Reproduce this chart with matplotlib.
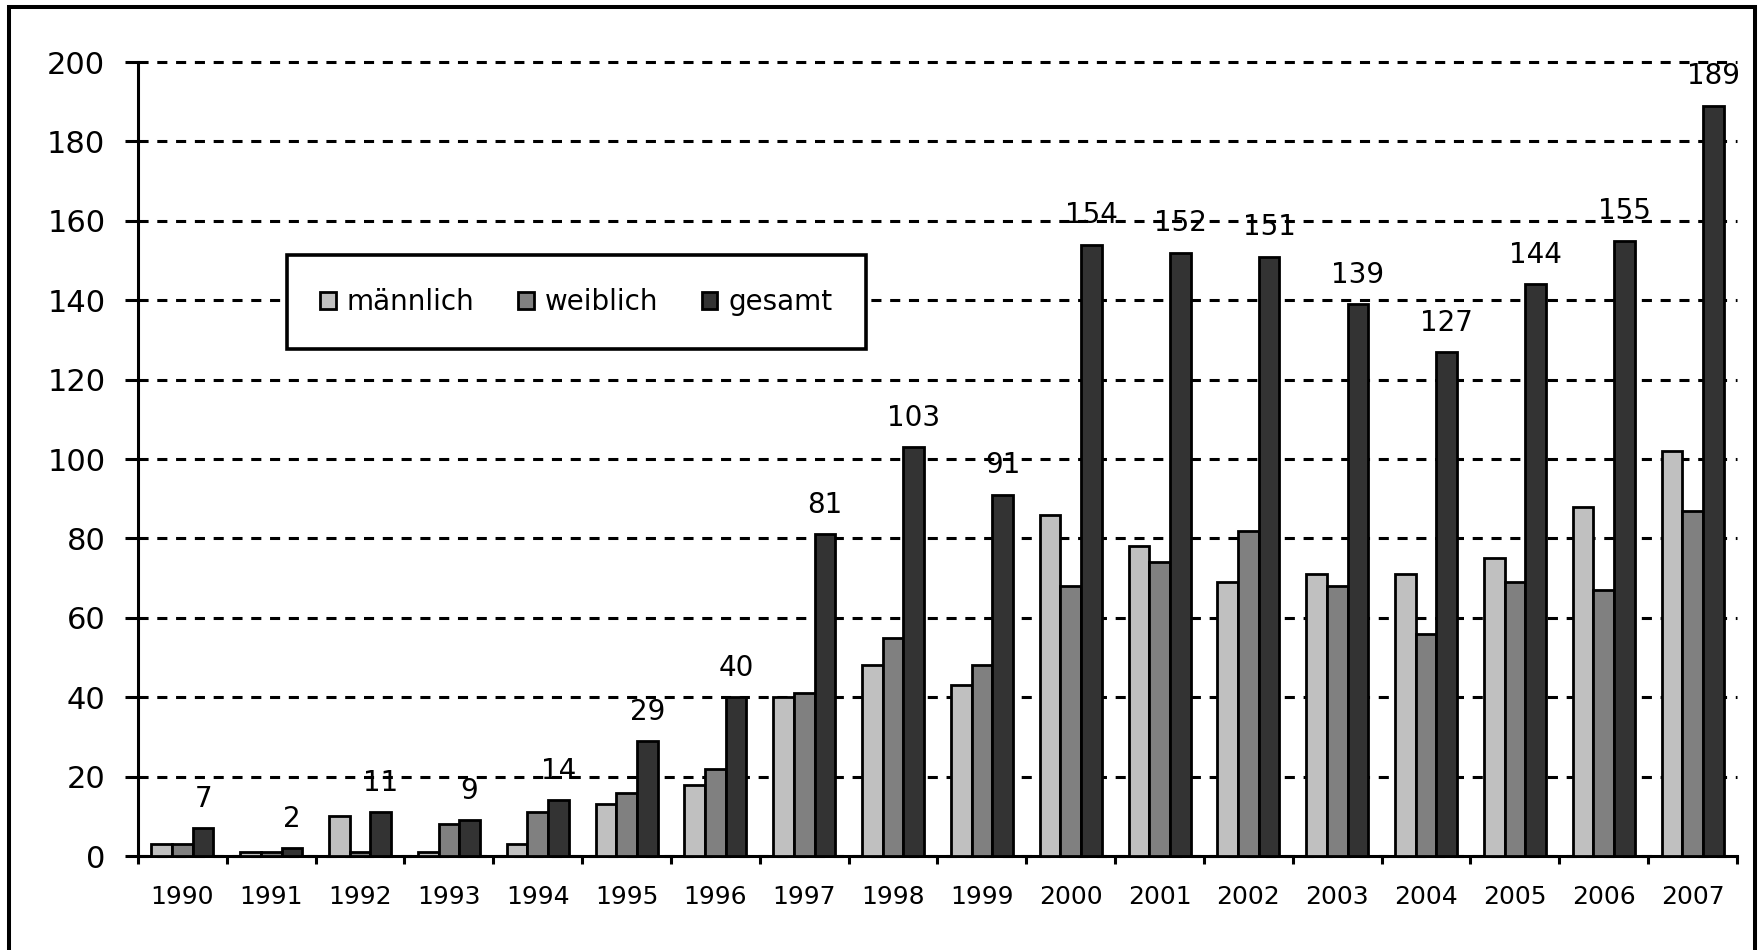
import numpy as np
import matplotlib.pyplot as plt
from matplotlib.patches import Rectangle, Patch

years = ['1990', '1991', '1992', '1993', '1994', '1995', '1996', '1997', '1998',
         '1999', '2000', '2001', '2002', '2003', '2004', '2005', '2006', '2007']
maennlich = [3, 1, 10, 1, 3, 13, 18, 40, 48, 43, 86, 78, 69, 71, 71, 75, 88, 102]
weiblich = [3, 1, 1, 8, 11, 16, 22, 41, 55, 48, 68, 74, 82, 68, 56, 69, 67, 87]
gesamt = [7, 2, 11, 9, 14, 29, 40, 81, 103, 91, 154, 152, 151, 139, 127, 144, 155, 189]
series_names = ['männlich', 'weiblich', 'gesamt']
colors = ['#c0c0c0', '#808080', '#333333']

plt.rcParams['font.family'] = ['DejaVu Sans']

fig = plt.figure(figsize=(17.62, 9.5), dpi=100)
ax = fig.add_axes([0.0783, 0.0989, 0.9075, 0.8358])

x = np.arange(len(years))
w = 0.233
for i, vals in enumerate([maennlich, weiblich, gesamt]):
    bars = ax.bar(x + (i - 1) * w, vals, width=w, color=colors[i],
                  edgecolor='black', linewidth=2, zorder=3)
    if i == 2:
        for b, v in zip(bars, vals):
            ax.annotate(str(v), (b.get_x() + b.get_width() / 2, v),
                        xytext=(0, 11), textcoords='offset points',
                        ha='center', va='bottom', fontsize=20, zorder=4)

ax.set_xlim(-0.5, len(years) - 0.5)
ax.set_ylim(0, 200)
ax.set_yticks(np.arange(0, 201, 20))
ax.yaxis.grid(True, color='black', linewidth=2.2, linestyle=(0, (3.3, 2.85)))
ax.set_axisbelow(True)
for gl in ax.get_ygridlines():
    gl.set_clip_on(False)

ax.set_xticks(x)
ax.set_xticklabels(years, fontsize=18)
ax.set_xticks(np.arange(-0.5, len(years)), minor=True)
ax.tick_params(axis='x', which='major', length=0, pad=21)
ax.tick_params(axis='x', which='minor', length=6, width=2.2, direction='out')
ax.tick_params(axis='y', length=9.5, width=2.2, direction='out', pad=14,
               labelsize=22)

for s in ['top', 'right']:
    ax.spines[s].set_visible(False)
for s in ['left', 'bottom']:
    ax.spines[s].set_linewidth(2.2)

handles = [Patch(facecolor=c, edgecolor='black', linewidth=2) for c in colors]
leg = fig.legend(handles, series_names, ncol=3, loc='center',
                 bbox_to_anchor=(287 / 1762, 1 - 353 / 950, 579 / 1762, 102 / 950),
                 mode='expand', fontsize=20, frameon=True, fancybox=False,
                 handlelength=0.55, handleheight=0.55, handletextpad=0.4,
                 borderpad=1.2, borderaxespad=0)
leg.get_frame().set_edgecolor('black')
leg.get_frame().set_linewidth(2.6)
leg.get_frame().set_alpha(1)

fig.patches.append(Rectangle((9 / 1762, -0.05), 1746 / 1762, 1 - 7 / 950 + 0.05,
                             transform=fig.transFigure, fill=False,
                             edgecolor='black', linewidth=2.9))

fig.savefig('out.png', dpi=100, facecolor='white')
